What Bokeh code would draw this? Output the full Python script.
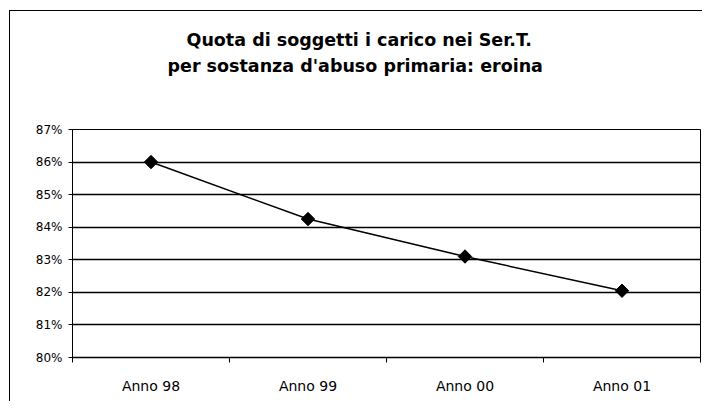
import math
from bokeh.plotting import figure
from bokeh.models import FixedTicker, NumeralTickFormatter, Range1d, ColumnDataSource, Title
from bokeh.embed import file_html
from bokeh.resources import INLINE

title_lines = ["Quota di soggetti i carico nei Ser.T.", "per sostanza d'abuso primaria: eroina"]
categories = ["Anno 98", "Anno 99", "Anno 00", "Anno 01"]
shares = [0.860, 0.8425, 0.831, 0.8205]
y_ticks = [0.80, 0.81, 0.82, 0.83, 0.84, 0.85, 0.86, 0.87]

xs = [i + 0.5 for i in range(len(categories))]
src = ColumnDataSource(dict(x=xs, y=shares, cat=categories))

p = figure(width=693, height=391, output_backend="svg", toolbar_location=None,
           x_range=Range1d(0, len(categories)), y_range=Range1d(y_ticks[0], y_ticks[-1]),
           min_border_left=62, min_border_right=3, min_border_top=118, min_border_bottom=45)
p.styles = {"margin-left": "9px", "margin-top": "10px",
            "border-left": "1.5px solid black", "border-top": "1.5px solid black"}

# spacer between frame and title, then the two title lines (first added is nearest the frame)
p.add_layout(Title(text=" ", standoff=39, text_font_size="10px"), "above")
for t, off in [(title_lines[1], 95), (title_lines[0], 114)]:
    p.add_layout(Title(text=t, align="left", offset=off, standoff=4,
                       text_font="DejaVu Sans", text_font_size="17.5px",
                       text_font_style="bold", text_color="black"), "above")

p.background_fill_color = "white"
p.border_fill_color = "white"
p.outline_line_color = "black"
p.outline_line_width = 1

# y axis
p.yaxis.ticker = FixedTicker(ticks=y_ticks, minor_ticks=[])
p.yaxis.formatter = NumeralTickFormatter(format="0%")
p.yaxis.major_label_text_font = "DejaVu Sans"
p.yaxis.major_label_text_font_size = "12px"
p.yaxis.major_label_text_color = "black"
p.yaxis.axis_line_color = "black"
p.yaxis.major_tick_line_color = "black"
p.yaxis.major_tick_in = 0
p.yaxis.major_tick_out = 4
p.yaxis.major_label_standoff = 6

# x axis: labels at centers, tick marks at category boundaries
p.xaxis.ticker = FixedTicker(ticks=xs, minor_ticks=list(range(len(categories) + 1)))
p.xaxis.major_label_overrides = {x: c for x, c in zip(xs, categories)}
p.xaxis.major_tick_line_color = None
p.xaxis.minor_tick_line_color = "black"
p.xaxis.minor_tick_in = 0
p.xaxis.minor_tick_out = 5
p.xaxis.axis_line_color = "black"
p.xaxis.axis_line_width = 1.5
p.xaxis.major_label_text_font = "DejaVu Sans"
p.xaxis.major_label_text_font_size = "14px"
p.xaxis.major_label_text_color = "black"
p.xaxis.major_label_standoff = 14

p.xgrid.visible = False
p.ygrid.ticker = FixedTicker(ticks=y_ticks)
p.ygrid.grid_line_color = "black"
p.ygrid.grid_line_width = 1.5

p.line("x", "y", source=src, line_color="black", line_width=1.5)
p.scatter("x", "y", source=src, marker="square", angle=math.pi / 4, size=9.5,
          fill_color="black", line_color="black")

open("out.html", "w").write(file_html(p, INLINE))
